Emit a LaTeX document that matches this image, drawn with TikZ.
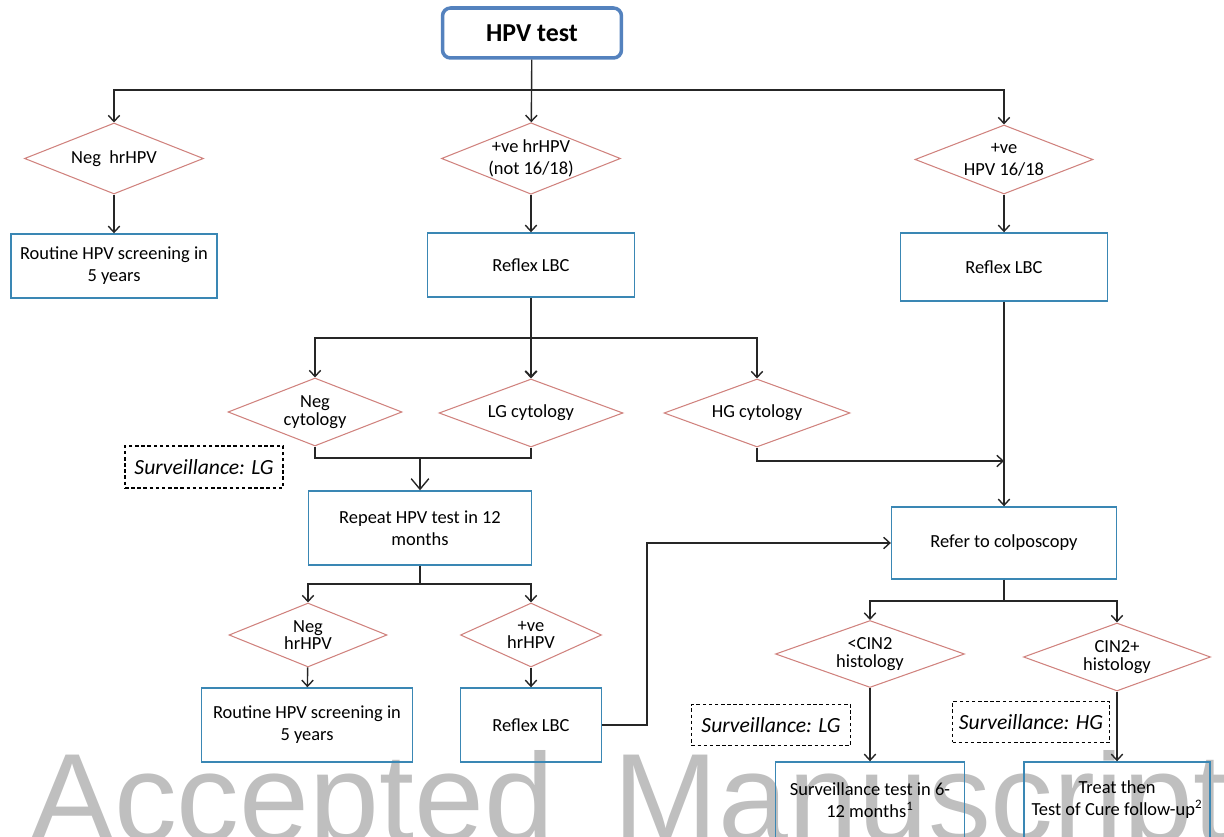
\documentclass[tikz,border=0pt]{standalone}
\usepackage{fontspec}
\setmainfont{Carlito}
\newfontfamily\markfont{Liberation Sans}
\usepackage{tikz}
\usetikzlibrary{shapes.geometric, arrows.meta, positioning}

\definecolor{boxblue}{RGB}{58,135,180}
\definecolor{diared}{RGB}{208,130,126}
\definecolor{startblue}{RGB}{84,130,190}

\tikzset{
  start/.style={rectangle, rounded corners=0.16cm, draw=startblue, line width=2pt,
    font=\bfseries\fontsize{14.7}{16}\selectfont},
  flowbox/.style={rectangle, draw=boxblue, line width=0.8pt, align=center, inner sep=2pt,
    font=\fontsize{10.5}{12.5}\selectfont},
  decision/.style={diamond, aspect=2.5, draw=diared, line width=0.6pt, align=center,
    inner sep=0pt, font=\fontsize{10.5}{10}\selectfont},
  note/.style={rectangle, draw, dash pattern=on 2pt off 1.5pt, line width=0.6pt,
    font=\itshape\fontsize{12.3}{14}\selectfont},
  line/.style={draw=black!85, line width=0.8pt},
}

\begin{document}
\begin{tikzpicture}[x=0.02cm, y=-0.02cm, >={Straight Barb[length=3.5pt,width=6.5pt]}]
	\useasboundingbox (0,0) rectangle (1224,837);
	
	\node[font=\markfont\fontsize{71.5}{72}\selectfont, text=black!25, anchor=base west, inner sep=0pt] (mark) at (30,841) {Accepted\hspace{0.5cm} Manuscript};
	
	\node[start, minimum width=3.58cm, minimum height=1cm] (hpv) at (532,33) {HPV test};
	
	% first split
	\node[decision, minimum width=3.58cm, minimum height=1.42cm] (neg) at (114,158.5) {Neg\ \ hrHPV};
	\node[decision, minimum width=3.58cm, minimum height=1.42cm, font=\fontsize{10.5}{12.5}\selectfont] (pos) at (531,158.5) {+ve hrHPV\\(not 16/18)};
	\node[decision, minimum width=3.56cm, minimum height=1.38cm, font=\fontsize{10.5}{12.5}\selectfont] (pos1618) at (1004,159.5) {+ve\\HPV 16/18};
	
	\node[flowbox, minimum width=4.12cm, minimum height=1.28cm] (routine) at (114,266) {Routine HPV screening in\\5 years};
	\node[flowbox, minimum width=4.14cm, minimum height=1.28cm] (reflex) at (531,265) {Reflex LBC};
	\node[flowbox, minimum width=4.14cm, minimum height=1.36cm] (reflex1618) at (1004,267) {Reflex LBC};
	
	% cytology
	\node[decision, minimum width=3.48cm, minimum height=1.36cm] (negcyt) at (315,412) {Neg\\cytology};
	\node[decision, minimum width=3.68cm, minimum height=1.36cm] (lgcyt) at (531,413) {LG cytology};
	\node[decision, minimum width=3.72cm, minimum height=1.36cm] (hgcyt) at (757,413) {HG cytology};
	
	\node[note, minimum width=3.16cm, minimum height=0.84cm] (survlg) at (204,467) {Surveillance: LG};
	
	\node[flowbox, minimum width=4.46cm, minimum height=1.48cm] (repeat) at (420,528) {Repeat HPV test in 12\\months};
	\node[flowbox, minimum width=4.5cm, minimum height=1.44cm] (colpo) at (1004,543) {Refer to colposcopy};
	
	% repeat test
	\node[decision, minimum width=3.16cm, minimum height=1.28cm] (neg2) at (308,635) {Neg\\hrHPV};
	\node[decision, minimum width=2.82cm, minimum height=1.28cm] (pos2) at (531,635) {+ve\\hrHPV};
	\node[flowbox, minimum width=4.22cm, minimum height=1.48cm] (routine2) at (307,725) {Routine HPV screening in\\5 years};
	\node[flowbox, minimum width=2.82cm, minimum height=1.48cm] (reflex2) at (531,725) {Reflex LBC};
	
	% histology
	\node[decision, minimum width=3.78cm, minimum height=1.34cm] (cinlow) at (870,654) {<CIN2\\histology};
	\node[decision, minimum width=3.74cm, minimum height=1.36cm] (cinhigh) at (1117,657) {CIN2+\\histology};
	\node[note, minimum width=3.18cm, minimum height=0.82cm] (survlg2) at (771,725) {Surveillance: LG};
	\node[note, minimum width=3.14cm, minimum height=0.82cm] (survhg) at (1031,722) {Surveillance: HG};
	\node[flowbox, minimum width=3.78cm, minimum height=1.52cm] (survtest) at (870,800) {Surveillance test in 6-\\12 months\textsuperscript{1}};
	\node[flowbox, minimum width=3.72cm, minimum height=1.52cm] (treat) at (1117,800) {Treat then\\Test of Cure follow-up\textsuperscript{2}};
	
	% bends
	\coordinate (topbus) at (532,90);
	\coordinate (cytbus) at (531,338);
	\coordinate (lgjoin) at (420,458);
	\coordinate (repbus) at (420,584);
	\coordinate (hgjoin) at (1004,461);
	\coordinate (back) at (647,725);
	\coordinate (histbus) at (1004,601);
	
	\draw[line, ->] (hpv) -- (pos);
	\draw[line, ->] (topbus) -| (neg);
	\draw[line, ->] (topbus) -| (pos1618);
	\draw[line, ->] (neg) -- (routine);
	\draw[line, ->] (pos) -- (reflex);
	\draw[line, ->] (pos1618) -- (reflex1618);
	
	\draw[line, line width=1.1pt, ->] (reflex) -- (lgcyt);
	\draw[line, ->] (cytbus) -| (negcyt);
	\draw[line, ->] (cytbus) -| (hgcyt);
	\draw[line] (negcyt) |- (lgjoin);
	\draw[line] (lgcyt) |- (lgjoin);
	\draw[line, -{Straight Barb[length=6pt,width=10pt]}] (lgjoin) -- (repeat);
	
	\draw[line, ->] (hgcyt) |- (hgjoin);
	\draw[line, ->] (reflex1618) -- (colpo);
	
	\draw[line] (repeat) -- (repbus);
	\draw[line, ->] (repbus) -| (neg2);
	\draw[line, ->] (repbus) -| (pos2);
	\draw[line, ->] (neg2) -- (routine2);
	\draw[line, ->] (pos2) -- (reflex2);
	\draw[line, ->] (reflex2) -- (back) |- (colpo);
	
	\draw[line] (colpo) -- (histbus);
	\draw[line, ->] (histbus) -| (cinlow);
	\draw[line, ->] (histbus) -| (cinhigh);
	\draw[line, ->] (cinlow) -- (survtest);
	\draw[line, ->] (cinhigh) -- (treat);
\end{tikzpicture}
\end{document}
